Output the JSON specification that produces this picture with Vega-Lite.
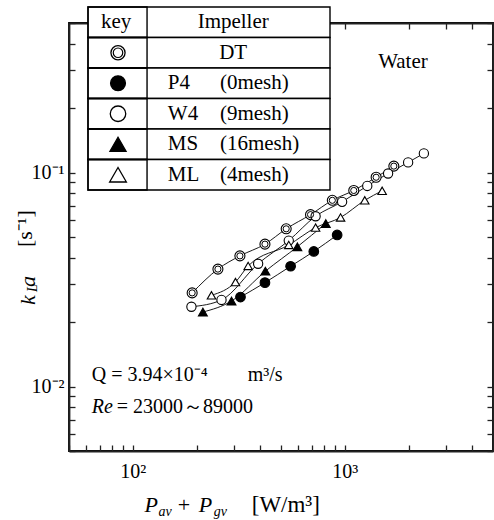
{
  "$schema": "https://vega.github.io/schema/vega-lite/v6.json",
  "width": 424,
  "height": 428,
  "autosize": {"type": "none"},
  "padding": {"left": 69, "top": 23, "right": 1, "bottom": 69},
  "background": "white",
  "config": {"view": {"stroke": "black", "strokeWidth": 1.8}, "font": "Liberation Serif"},
  "datasets": {
    "pts": [
      {"impeller": "DT", "P": 190.5, "kLa": 0.0274},
      {"impeller": "DT", "P": 252, "kLa": 0.0354},
      {"impeller": "DT", "P": 320, "kLa": 0.0408},
      {"impeller": "DT", "P": 420, "kLa": 0.0463},
      {"impeller": "DT", "P": 529, "kLa": 0.0546},
      {"impeller": "DT", "P": 689, "kLa": 0.0636},
      {"impeller": "DT", "P": 873, "kLa": 0.0742},
      {"impeller": "DT", "P": 1102, "kLa": 0.0825},
      {"impeller": "DT", "P": 1405, "kLa": 0.0951},
      {"impeller": "DT", "P": 1703, "kLa": 0.1072},
      {"impeller": "W4", "P": 189, "kLa": 0.0236},
      {"impeller": "W4", "P": 262, "kLa": 0.0254},
      {"impeller": "W4", "P": 390, "kLa": 0.0375},
      {"impeller": "W4", "P": 544, "kLa": 0.0481},
      {"impeller": "W4", "P": 728, "kLa": 0.0625},
      {"impeller": "W4", "P": 971, "kLa": 0.073},
      {"impeller": "W4", "P": 1276, "kLa": 0.0866},
      {"impeller": "W4", "P": 1600, "kLa": 0.099},
      {"impeller": "W4", "P": 1989, "kLa": 0.1116},
      {"impeller": "W4", "P": 2360, "kLa": 0.1229},
      {"impeller": "P4", "P": 322, "kLa": 0.0262},
      {"impeller": "P4", "P": 420, "kLa": 0.0306},
      {"impeller": "P4", "P": 555, "kLa": 0.0365},
      {"impeller": "P4", "P": 714, "kLa": 0.0428},
      {"impeller": "P4", "P": 920, "kLa": 0.0511},
      {"impeller": "MS", "P": 214, "kLa": 0.0223},
      {"impeller": "MS", "P": 292, "kLa": 0.0251},
      {"impeller": "MS", "P": 422, "kLa": 0.0346},
      {"impeller": "MS", "P": 597, "kLa": 0.045},
      {"impeller": "MS", "P": 813, "kLa": 0.0578},
      {"impeller": "ML", "P": 235, "kLa": 0.0267},
      {"impeller": "ML", "P": 305, "kLa": 0.0308},
      {"impeller": "ML", "P": 350, "kLa": 0.0366},
      {"impeller": "ML", "P": 544, "kLa": 0.0459},
      {"impeller": "ML", "P": 728, "kLa": 0.0553},
      {"impeller": "ML", "P": 955, "kLa": 0.0617},
      {"impeller": "ML", "P": 1242, "kLa": 0.0742},
      {"impeller": "ML", "P": 1500, "kLa": 0.0822}
    ],
    "table": [
      {"row": "key", "name": "Impeller", "mesh": ""},
      {"row": "DT", "name": "DT", "mesh": ""},
      {"row": "P4", "name": "P4", "mesh": "(0mesh)"},
      {"row": "W4", "name": "W4", "mesh": "(9mesh)"},
      {"row": "MS", "name": "MS", "mesh": "(16mesh)"},
      {"row": "ML", "name": "ML", "mesh": "(4mesh)"}
    ]
  },
  "layer": [
    {
      "layer": [
        {
          "data": {"name": "pts"},
          "mark": {"type": "line", "interpolate": "monotone", "color": "black", "strokeWidth": 0.9},
          "encoding": {
            "x": {
              "field": "P", "type": "quantitative",
              "scale": {"type": "log", "domain": [50, 5000], "nice": false},
              "axis": {
                "orient": "bottom",
                "values": [50, 60, 70, 80, 90, 100, 200, 300, 400, 500, 600, 700, 800, 900, 1000, 2000, 3000, 4000, 5000],
                "labelExpr": "datum.value == 100 ? '10²' : (datum.value == 1000 ? '10³' : '')",
                "grid": false,
                "tickSize": -6, "tickColor": "#222222", "tickWidth": 1.3,
                "domainColor": "#222222", "domainWidth": 1.8,
                "title": null,
                "labelFont": "Liberation Serif", "labelFontSize": 20, "labelColor": "black",
                "labelPadding": 16, "labelOverlap": false, "labelFlush": false
              }
            },
            "y": {
              "field": "kLa", "type": "quantitative",
              "scale": {"type": "log", "domain": [0.005, 0.5], "nice": false},
              "axis": {
                "orient": "left",
                "values": [0.005, 0.006, 0.007, 0.008, 0.009, 0.01, 0.02, 0.03, 0.04, 0.05, 0.06, 0.07, 0.08, 0.09, 0.1, 0.2, 0.3, 0.4, 0.5],
                "labelExpr": "datum.value == 0.1 ? '10⁻¹' : (datum.value == 0.01 ? '10⁻²' : '')",
                "grid": false,
                "tickSize": -6, "tickColor": "#222222", "tickWidth": 1.3,
                "domainColor": "#222222", "domainWidth": 1.8,
                "title": null,
                "labelFont": "Liberation Serif", "labelFontSize": 20, "labelColor": "black",
                "labelPadding": 11, "labelOverlap": false, "labelFlush": false
              }
            },
            "detail": {"field": "impeller"}
          }
        },
        {
          "data": {"name": "pts"},
          "mark": {"type": "point", "filled": true, "stroke": "black", "strokeWidth": 1.1, "opacity": 1},
          "encoding": {
            "x": {"field": "P", "type": "quantitative"},
            "y": {"field": "kLa", "type": "quantitative"},
            "shape": {"field": "impeller", "type": "nominal", "scale": {"domain": ["DT", "P4", "W4", "MS", "ML"], "range": ["circle", "circle", "circle", "triangle-up", "triangle-up"]}, "legend": null},
            "fill": {"field": "impeller", "type": "nominal", "scale": {"domain": ["DT", "P4", "W4", "MS", "ML"], "range": ["white", "black", "white", "black", "white"]}, "legend": null},
            "size": {"field": "impeller", "type": "nominal", "scale": {"domain": ["DT", "P4", "W4", "MS", "ML"], "range": [100, 72, 90, 115, 115]}, "legend": null}
          }
        },
        {
          "data": {"name": "pts"},
          "transform": [{"filter": "datum.impeller == 'DT'"}],
          "mark": {"type": "point", "shape": "circle", "filled": false, "stroke": "black", "strokeWidth": 1, "size": 38, "opacity": 1},
          "encoding": {
            "x": {"field": "P", "type": "quantitative"},
            "y": {"field": "kLa", "type": "quantitative"}
          }
        },
        {"data": {"values": [{}]}, "mark": {"type": "text", "text": "Water", "fontSize": 21, "align": "center", "baseline": "alphabetic", "color": "black"}, "encoding": {"x": {"datum": 1880, "type": "quantitative"}, "y": {"datum": 0.308, "type": "quantitative"}}},
        {"data": {"values": [{}]}, "mark": {"type": "text", "text": "Q = 3.94×10⁻⁴", "fontSize": 20, "align": "left", "baseline": "alphabetic", "color": "black"}, "encoding": {"x": {"datum": 64, "type": "quantitative"}, "y": {"datum": 0.0106, "type": "quantitative"}}},
        {"data": {"values": [{}]}, "mark": {"type": "text", "text": "m³/s", "fontSize": 20, "align": "left", "baseline": "alphabetic", "color": "black"}, "encoding": {"x": {"datum": 348, "type": "quantitative"}, "y": {"datum": 0.0106, "type": "quantitative"}}},
        {"data": {"values": [{}]}, "mark": {"type": "text", "text": "Re", "fontSize": 20, "fontStyle": "italic", "align": "left", "baseline": "alphabetic", "color": "black"}, "encoding": {"x": {"datum": 64, "type": "quantitative"}, "y": {"datum": 0.0075, "type": "quantitative"}}},
        {"data": {"values": [{}]}, "mark": {"type": "text", "text": "= 23000～89000", "fontSize": 20, "align": "left", "baseline": "alphabetic", "color": "black"}, "encoding": {"x": {"datum": 84, "type": "quantitative"}, "y": {"datum": 0.0075, "type": "quantitative"}}},
        {"data": {"values": [{}]}, "mark": {"type": "text", "text": "P", "fontSize": 22, "fontStyle": "italic", "align": "left", "baseline": "alphabetic", "color": "black"}, "encoding": {"x": {"datum": 113.6, "type": "quantitative"}, "y": {"datum": 0.00259, "type": "quantitative"}}},
        {"data": {"values": [{}]}, "mark": {"type": "text", "text": "av", "fontSize": 14, "fontStyle": "italic", "align": "left", "baseline": "alphabetic", "color": "black"}, "encoding": {"x": {"datum": 132.3, "type": "quantitative"}, "y": {"datum": 0.00249, "type": "quantitative"}}},
        {"data": {"values": [{}]}, "mark": {"type": "text", "text": "+", "fontSize": 22, "align": "left", "baseline": "alphabetic", "color": "black"}, "encoding": {"x": {"datum": 162.7, "type": "quantitative"}, "y": {"datum": 0.00259, "type": "quantitative"}}},
        {"data": {"values": [{}]}, "mark": {"type": "text", "text": "P", "fontSize": 22, "fontStyle": "italic", "align": "left", "baseline": "alphabetic", "color": "black"}, "encoding": {"x": {"datum": 204.4, "type": "quantitative"}, "y": {"datum": 0.00259, "type": "quantitative"}}},
        {"data": {"values": [{}]}, "mark": {"type": "text", "text": "gv", "fontSize": 14, "fontStyle": "italic", "align": "left", "baseline": "alphabetic", "color": "black"}, "encoding": {"x": {"datum": 240.6, "type": "quantitative"}, "y": {"datum": 0.00249, "type": "quantitative"}}},
        {"data": {"values": [{}]}, "mark": {"type": "text", "text": "[W/m³]", "fontSize": 23, "align": "left", "baseline": "alphabetic", "color": "black"}, "encoding": {"x": {"datum": 363.8, "type": "quantitative"}, "y": {"datum": 0.00259, "type": "quantitative"}}},
        {"data": {"values": [{}]}, "mark": {"type": "text", "text": "k", "fontSize": 22, "fontStyle": "italic", "angle": 270, "align": "left", "baseline": "alphabetic", "color": "black"}, "encoding": {"x": {"datum": 34.4, "type": "quantitative"}, "y": {"datum": 0.02405, "type": "quantitative"}}},
        {"data": {"values": [{}]}, "mark": {"type": "text", "text": "L", "fontSize": 14, "fontStyle": "italic", "angle": 270, "align": "left", "baseline": "alphabetic", "color": "black"}, "encoding": {"x": {"datum": 35.5, "type": "quantitative"}, "y": {"datum": 0.02767, "type": "quantitative"}}},
        {"data": {"values": [{}]}, "mark": {"type": "text", "text": "a", "fontSize": 22, "fontStyle": "italic", "angle": 270, "align": "left", "baseline": "alphabetic", "color": "black"}, "encoding": {"x": {"datum": 34.4, "type": "quantitative"}, "y": {"datum": 0.0292, "type": "quantitative"}}},
        {"data": {"values": [{}]}, "mark": {"type": "text", "text": "[s⁻¹]", "fontSize": 22, "angle": 270, "align": "left", "baseline": "alphabetic", "color": "black"}, "encoding": {"x": {"datum": 33.3, "type": "quantitative"}, "y": {"datum": 0.04489, "type": "quantitative"}}}
      ]
    },
    {
      "data": {"name": "pts"},
      "mark": {"type": "point", "opacity": 0},
      "encoding": {
        "x": {
          "field": "P", "type": "quantitative",
          "scale": {"type": "log", "domain": [50, 5000], "nice": false},
          "axis": {
            "orient": "top",
            "values": [1000, 2000, 3000, 4000],
            "labels": false,
            "grid": false,
            "tickSize": -6, "tickColor": "#222222", "tickWidth": 1.3,
            "domainColor": "#222222", "domainWidth": 1.8,
            "title": null
          }
        },
        "y": {
          "field": "kLa", "type": "quantitative",
          "scale": {"type": "log", "domain": [0.005, 0.5], "nice": false},
          "axis": {
            "orient": "right",
            "values": [0.005, 0.006, 0.007, 0.008, 0.009, 0.01, 0.02, 0.03, 0.04, 0.05, 0.06, 0.07, 0.08, 0.09, 0.1, 0.2, 0.3, 0.4, 0.5],
            "labels": false,
            "grid": false,
            "tickSize": -6, "tickColor": "#222222", "tickWidth": 1.3,
            "domainColor": "#222222", "domainWidth": 1.8,
            "title": null
          }
        }
      }
    },
    {
      "data": {"name": "table"},
      "encoding": {
        "y": {"field": "row", "type": "nominal", "scale": {"domain": ["key", "DT", "P4", "W4", "MS", "ML"], "range": [-16, 167], "paddingInner": 0, "paddingOuter": 0}, "axis": null}
      },
      "layer": [
        {
          "mark": {"type": "rect", "fill": "white", "stroke": "black", "strokeWidth": 1.4},
          "encoding": {
            "x": {"datum": 0, "type": "quantitative", "scale": {"domain": [0, 1], "range": [19, 261]}, "axis": null},
            "x2": {"datum": 1}
          }
        },
        {
          "mark": {"type": "rect", "fill": "transparent", "stroke": "black", "strokeWidth": 1.4},
          "encoding": {
            "x": {"datum": 0, "type": "quantitative", "scale": {"domain": [0, 1], "range": [19, 261]}, "axis": null},
            "x2": {"datum": 0.244}
          }
        },
        {
          "transform": [{"filter": "datum.row != 'key'"}],
          "mark": {"type": "point", "filled": true, "stroke": "black", "strokeWidth": 1.3, "opacity": 1},
          "encoding": {
            "x": {"datum": 0.124, "type": "quantitative", "scale": {"domain": [0, 1], "range": [19, 261]}, "axis": null},
            "shape": {"field": "row", "type": "nominal", "scale": {"domain": ["DT", "P4", "W4", "MS", "ML"], "range": ["circle", "circle", "circle", "triangle-up", "triangle-up"]}, "legend": null},
            "fill": {"field": "row", "type": "nominal", "scale": {"domain": ["DT", "P4", "W4", "MS", "ML"], "range": ["white", "black", "white", "black", "white"]}, "legend": null},
            "size": {"field": "row", "type": "nominal", "scale": {"domain": ["DT", "P4", "W4", "MS", "ML"], "range": [200, 280, 270, 360, 360]}, "legend": null}
          }
        },
        {
          "transform": [{"filter": "datum.row == 'DT'"}],
          "mark": {"type": "point", "shape": "circle", "filled": false, "stroke": "black", "strokeWidth": 1.2, "size": 90, "opacity": 1},
          "encoding": {
            "x": {"datum": 0.124, "type": "quantitative", "scale": {"domain": [0, 1], "range": [19, 261]}, "axis": null}
          }
        },
        {
          "transform": [{"filter": "datum.row == 'key'"}],
          "mark": {"type": "text", "text": "key", "fontSize": 21, "align": "center", "baseline": "middle", "color": "black"},
          "encoding": {
            "x": {"datum": 0.116, "type": "quantitative", "scale": {"domain": [0, 1], "range": [19, 261]}, "axis": null}
          }
        },
        {
          "transform": [{"filter": "datum.row == 'key' || datum.row == 'DT'"}],
          "mark": {"type": "text", "fontSize": 21, "align": "center", "baseline": "middle", "color": "black"},
          "encoding": {
            "x": {"datum": 0.6, "type": "quantitative", "scale": {"domain": [0, 1], "range": [19, 261]}, "axis": null},
            "text": {"field": "name"}
          }
        },
        {
          "transform": [{"filter": "datum.row != 'key' && datum.row != 'DT'"}],
          "mark": {"type": "text", "fontSize": 21, "align": "left", "baseline": "middle", "color": "black"},
          "encoding": {
            "x": {"datum": 0.33, "type": "quantitative", "scale": {"domain": [0, 1], "range": [19, 261]}, "axis": null},
            "text": {"field": "name"}
          }
        },
        {
          "transform": [{"filter": "datum.mesh != ''"}],
          "mark": {"type": "text", "fontSize": 21, "align": "left", "baseline": "middle", "color": "black"},
          "encoding": {
            "x": {"datum": 0.545, "type": "quantitative", "scale": {"domain": [0, 1], "range": [19, 261]}, "axis": null},
            "text": {"field": "mesh"}
          }
        }
      ]
    }
  ],
  "resolve": {
    "scale": {"x": "independent", "y": "independent", "shape": "independent", "fill": "independent", "size": "independent"},
    "axis": {"x": "independent", "y": "independent"}
  }
}
